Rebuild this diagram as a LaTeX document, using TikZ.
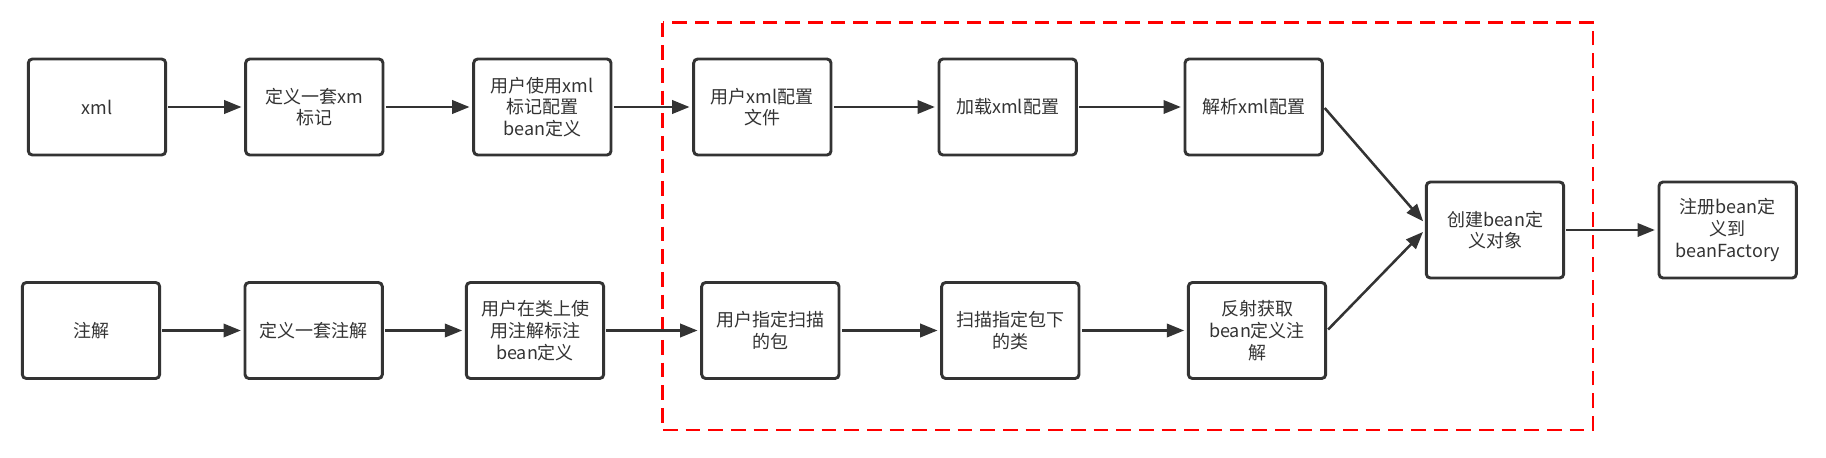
\documentclass[tikz,border=0pt]{standalone}
\usepackage{fontspec}
\setmainfont{Noto Sans CJK SC}
\usetikzlibrary{arrows.meta,positioning}
\definecolor{darkline}{HTML}{333333}

\begin{document}
\begin{tikzpicture}[x=0.75pt,y=-0.75pt,>={Triangle[length=13pt,width=10pt]},node distance=165pt,
    main node/.style={draw=darkline,line width=2.2pt,rounded corners=3pt,minimum width=103pt,minimum height=72pt,inner sep=0pt,align=center,text=darkline,font=\fontsize{13.5}{16.3}\selectfont}]

                \useasboundingbox (0,0) rectangle (1826,457);

                % red dashed frame
                \draw[red, line width=2.2pt, dash pattern=on 11pt off 6pt] (662.5,22.5) rectangle (1593,430);

                % xml row
                \node[main node]  (xml) at (97,107) {xml};
                \node[main node]  (defxml) [right of = xml, xshift=-2pt] {定义一套xm\\标记};
                \node[main node]  (usexml) [right of = defxml, xshift=6pt] {用户使用xml\\标记配置\\bean定义};
                \node[main node]  (xmlfile) [right of = usexml] {用户xml配置\\文件};
                \node[main node]  (load) [right of = xmlfile, xshift=19pt] {加载xml配置};
                \node[main node]  (parse) [right of = load, xshift=19.5pt] {解析xml配置};

                % annotation row
                \node[main node]  (anno) at (91,330.5) {注解};
                \node[main node]  (defanno) [right of = anno, xshift=2pt] {定义一套注解};
                \node[main node]  (useanno) [right of = defanno, xshift=1pt] {用户在类上使\\用注解标注\\bean定义};
                \node[main node]  (pkg) [right of = useanno, xshift=11.5pt] {用户指定扫描\\的包};
                \node[main node]  (scan) [right of = pkg, xshift=15pt] {扫描指定包下\\的类};
                \node[main node]  (reflect) [right of = scan, xshift=20pt] {反射获取\\bean定义注\\解};

                \node[main node]  (create) at (1495,230) {创建bean定\\义对象};
                \node[main node]  (register) [right of = create, xshift=9.5pt] {注册bean定\\义到\\beanFactory};

                \path[->, color=darkline, line width=1.9pt, shorten >=2pt, shorten <=1pt]

                (xml) edge (defxml)
                (defxml) edge (usexml)
                (usexml) edge (xmlfile)
                (xmlfile) edge (load)
                (load) edge (parse)
                (parse.east) edge ([yshift=5pt]create.west)

                (anno) edge (defanno)
                (defanno) edge (useanno)
                (useanno) edge (pkg)
                (pkg) edge (scan)
                (scan) edge (reflect)
                (reflect.east) edge (create.west)

                (create) edge (register)
            ;
            \end{tikzpicture}
\end{document}
